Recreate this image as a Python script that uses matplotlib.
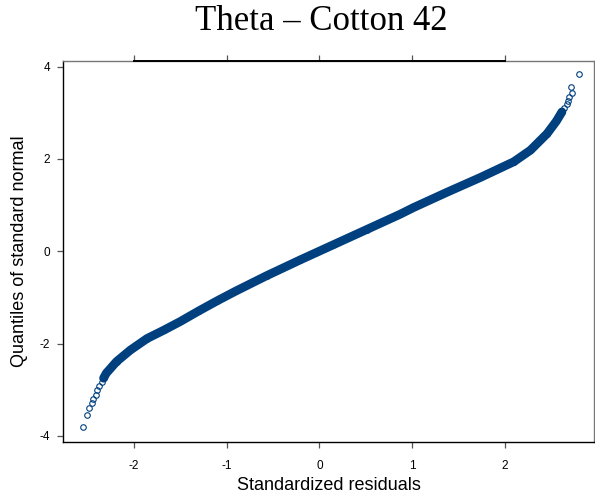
import matplotlib
matplotlib.use("Agg")
import matplotlib.pyplot as plt

# valores leidos del grafico
# colas (puntos sueltos)
tail_lo_x = [-2.555, -2.505, -2.487, -2.45, -2.44, -2.415, -2.40, -2.375, -2.35]
tail_lo_y = [-3.81, -3.55, -3.40, -3.29, -3.20, -3.11, -3.00, -2.92, -2.83]
tail_hi_x = [2.64, 2.67, 2.69, 2.70, 2.725, 2.715, 2.80]
tail_hi_y = [3.10, 3.19, 3.26, 3.34, 3.44, 3.57, 3.835]

# cuerpo denso de la curva
body_x = [-2.33, -2.30, -2.19, -2.04, -1.86, -1.68, -1.50, -1.30, -1.10, -0.90,
          -0.57, -0.21, 0.15, 0.51, 0.87, 1.02, 1.38, 1.74, 2.10, 2.28, 2.46,
          2.56, 2.62]
body_y = [-2.75, -2.64, -2.39, -2.14, -1.89, -1.71, -1.52, -1.29, -1.07, -0.86,
          -0.53, -0.19, 0.14, 0.47, 0.80, 0.95, 1.28, 1.60, 1.94, 2.19, 2.55,
          2.82, 3.02]

xticks = [-2, -1, 0, 1, 2]
yticks = [-4, -2, 0, 2, 4]

color = "#00407f"

plt.rcParams['font.family'] = ['Liberation Sans', 'DejaVu Sans']

fig = plt.figure(figsize=(5.95, 5.04), dpi=100)
ax = fig.add_axes([0.1059, 0.1236, 0.8924, 0.7554])

# banda densa
ax.plot(body_x, body_y, color=color, lw=6.3, solid_capstyle='round',
        solid_joinstyle='round', zorder=2)
ax.plot(body_x, body_y, 'o', mfc='none', mec=color, ms=4.0, mew=0.8, zorder=2)
ax.plot(tail_lo_x, tail_lo_y, 'o', mfc='none', mec=color, ms=4.0, mew=0.8, zorder=3)
ax.plot(tail_hi_x, tail_hi_y, 'o', mfc='none', mec=color, ms=4.0, mew=0.8, zorder=3)

ax.set_xlim(-2.768, 2.966)
ax.set_ylim(-4.126, 4.123)
ax.set_xticks(xticks)
ax.set_yticks(yticks)
ax.set_xticklabels([str(t) for t in xticks])
ax.set_yticklabels([str(t) for t in yticks])

ax.tick_params(axis='both', direction='out', length=4.5, width=0.9,
               color='#555555', labelsize=8.5, top=True, right=True)
ax.tick_params(axis='x', pad=9)
ax.tick_params(axis='y', pad=5)

for side in ['left', 'bottom']:
    ax.spines[side].set_linewidth(1.0)
    ax.spines[side].set_color('black')
for side in ['top', 'right']:
    ax.spines[side].set_linewidth(1.0)
    ax.spines[side].set_color('#777777')
# linea negra del eje superior entre los ticks extremos
ax.plot([xticks[0], xticks[-1]], [1, 1], color='black', lw=1.4,
        transform=ax.get_xaxis_transform(), clip_on=False, zorder=5)

ax.set_xlabel("Standardized residuals", fontsize=13, labelpad=3)
ax.set_ylabel("Quantiles of standard normal", fontsize=13, labelpad=8)

fig.text(0.540, 0.957, "Theta \u2013 Cotton 42", fontsize=25,
         family=['Liberation Serif', 'DejaVu Serif'], ha='center', va='center')

fig.savefig("out.png", dpi=100)
